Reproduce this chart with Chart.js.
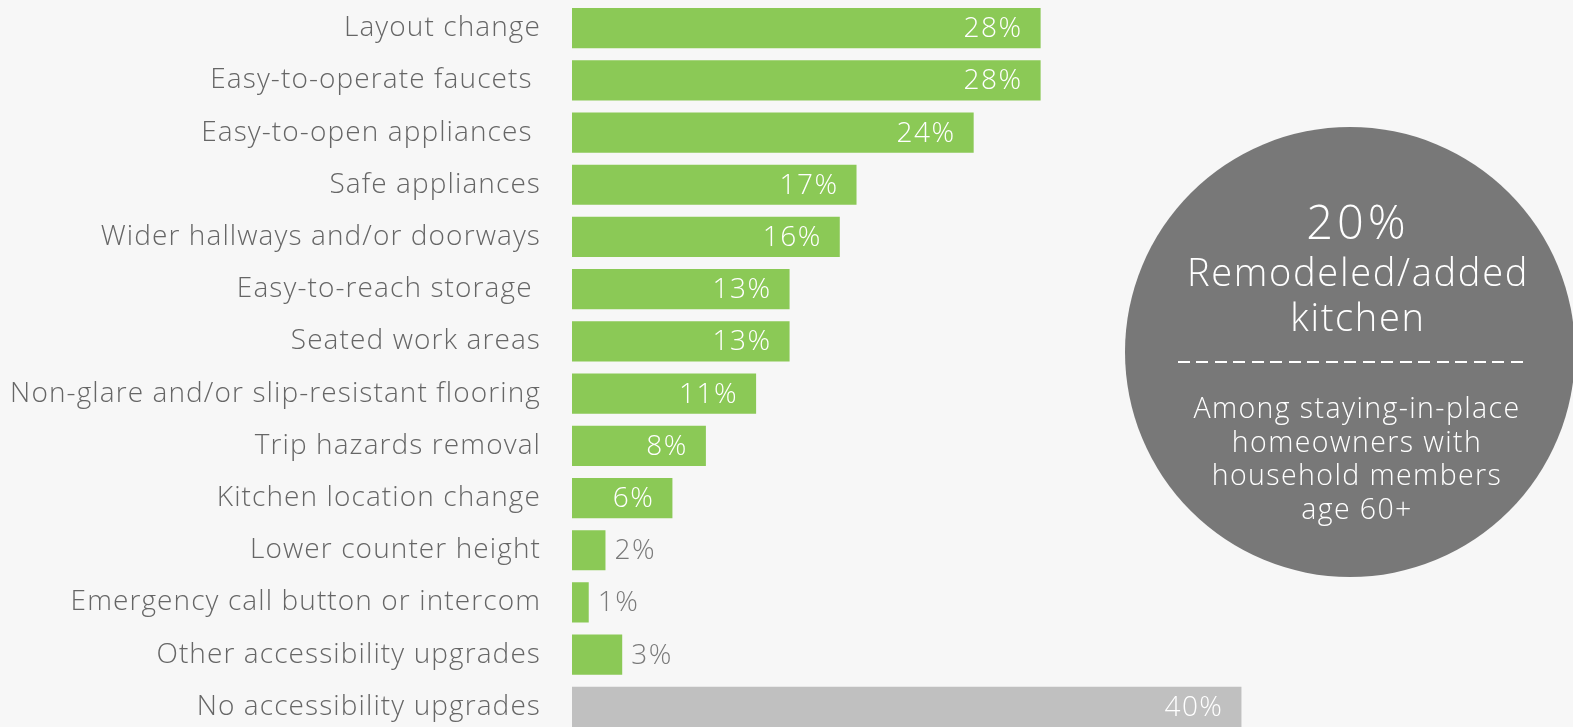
<!DOCTYPE html>
<html>
<head>
<meta charset="utf-8">
<script src="https://cdn.jsdelivr.net/npm/chart.js@4.4.1/dist/chart.umd.min.js"></script>
<style>
  html, body { margin: 0; padding: 0; background: #f7f7f7; overflow: hidden; }
  #wrap { position: relative; width: 1573px; height: 727px; overflow: hidden; }
  #chartBox { position: absolute; left: 0; top: 0; width: 1573px; height: 735px; }
  #badge {
    position: absolute; left: 1125px; top: 127px; width: 450px; height: 450px;
    border-radius: 50%; background: #787878; color: #ffffff;
    font-family: "Open Sans", Lato, sans-serif; font-weight: 300; text-align: center;
  }
  #badge .big { position: absolute; left: 16px; right: 0; top: 69px; font-size: 47px; line-height: 50px; letter-spacing: 4px; }
  #badge .title { position: absolute; left: 16px; right: 0; top: 122px; font-size: 38px; line-height: 45px; letter-spacing: 1.7px; }
  #badge .rule {
    position: absolute; left: 53px; width: 348px; top: 234px; height: 2px;
    background: repeating-linear-gradient(to right, #ffffff 0 12px, transparent 12px 18.5px);
  }
  #badge .note { position: absolute; left: 14px; right: 0; top: 264px; font-size: 28.5px; line-height: 33.5px; letter-spacing: 1.4px; }
</style>
</head>
<body>
<div id="wrap">
  <div id="chartBox"><canvas id="chart"></canvas></div>
  <div id="badge">
    <div class="big">20%</div>
    <div class="title">Remodeled/added<br>kitchen</div>
    <div class="rule"></div>
    <div class="note">Among staying-in-place<br>homeowners with<br>household members<br>age 60+</div>
  </div>
</div>
<script>
// Kitchen accessibility upgrades, share of homeowners
const categories = [
  "Layout change",
  "Easy-to-operate faucets ",
  "Easy-to-open appliances ",
  "Safe appliances",
  "Wider hallways and/or doorways",
  "Easy-to-reach storage ",
  "Seated work areas",
  "Non-glare and/or slip-resistant flooring",
  "Trip hazards removal",
  "Kitchen location change",
  "Lower counter height",
  "Emergency call button or intercom",
  "Other accessibility upgrades",
  "No accessibility upgrades"
];
const percentages = [28, 28, 24, 17, 16, 13, 13, 11, 8, 6, 2, 1, 3, 40];
const upgradeColor = "#8bc956";
const noUpgradeColor = "#c0c0c0";
const barColors = categories.map((c, i) => i === categories.length - 1 ? noUpgradeColor : upgradeColor);

const FONT = "'Open Sans', Lato, sans-serif";

// Slightly open tracking for every text drawn on the canvas
const tracking = {
  id: "tracking",
  beforeDraw(chart) { chart.ctx.letterSpacing = "1.1px"; }
};

// Percent labels: inside the bar (white) when it is long enough, otherwise just past its end
const valueLabels = {
  id: "valueLabels",
  afterDatasetsDraw(chart) {
    const ctx = chart.ctx;
    const meta = chart.getDatasetMeta(0);
    ctx.save();
    ctx.letterSpacing = "1.5px";
    ctx.font = "300 28px " + FONT;
    ctx.textBaseline = "middle";
    meta.data.forEach((bar, i) => {
      const v = percentages[i];
      const text = v + "%";
      if (v >= 5) {
        ctx.fillStyle = "#ffffff";
        ctx.textAlign = "right";
        ctx.fillText(text, bar.x - 18, bar.y + 1);
      } else {
        ctx.fillStyle = "#7a7a7a";
        ctx.textAlign = "left";
        ctx.fillText(text, bar.x + 9, bar.y + 1);
      }
    });
    ctx.restore();
  }
};

new Chart(document.getElementById("chart"), {
  type: "bar",
  data: {
    labels: categories,
    datasets: [{
      data: percentages,
      backgroundColor: barColors,
      borderWidth: 0,
      barPercentage: 0.77,
      categoryPercentage: 1
    }]
  },
  options: {
    indexAxis: "y",
    responsive: true,
    maintainAspectRatio: false,
    animation: false,
    layout: { padding: { left: 0, right: 3.5, top: 2, bottom: 2 } },
    plugins: { legend: { display: false }, tooltip: { enabled: false } },
    scales: {
      x: {
        min: 0, max: 59.6,
        display: false,
        grid: { display: false }
      },
      y: {
        grid: { display: false, drawTicks: false },
        border: { display: false },
        afterFit(scale) {
          scale.width = 572;
          scale.paddingTop = 0;
          scale.paddingBottom = 0;
        },
        ticks: {
          padding: 31,
          color: "#666666",
          font: { family: FONT, size: 28, weight: 300 }
        }
      }
    }
  },
  plugins: [tracking, valueLabels]
});
</script>
</body>
</html>
